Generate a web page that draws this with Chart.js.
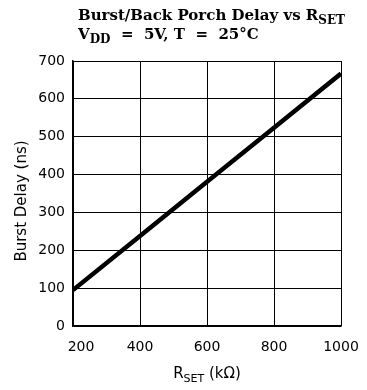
<!DOCTYPE html>
<html>
<head>
<meta charset="utf-8">
<script src="https://cdn.jsdelivr.net/npm/chart.js@4.4.1/dist/chart.umd.min.js"></script>
<style>
  html, body { margin: 0; padding: 0; background: #fff; }
  canvas { display: block; }
</style>
</head>
<body>
<canvas id="myChart" width="367" height="390"></canvas>
<script>
  // data
  const rset = [200, 400, 600, 800, 1000];
  const burstDelay = [95, 238, 381, 524, 667];
  const xTicks = [200, 400, 600, 800, 1000];
  const yTicks = [0, 100, 200, 300, 400, 500, 600, 700];

  const sans = '"DejaVu Sans", sans-serif';
  const serif = '"DejaVu Serif", serif';

  // draws text pieces, some of them as subscripts
  function drawRuns(c, runs, x, y, size, sub, bold) {
    const w = bold ? 'bold ' : '';
    for (const r of runs) {
      const fs = r.sub ? sub : size;
      c.font = w + fs + 'px ' + (r.font || serif);
      c.fillText(r.t, x, r.sub ? y + 4 : y);
      x += c.measureText(r.t).width;
    }
    return x;
  }
  function runsWidth(c, runs, size, sub, bold) {
    let wsum = 0;
    for (const r of runs) {
      c.font = (bold ? 'bold ' : '') + (r.sub ? sub : size) + 'px ' + (r.font || serif);
      wsum += c.measureText(r.t).width;
    }
    return wsum;
  }

  const labelsPlugin = {
    id: 'labels',
    afterDraw(chart) {
      const c = chart.ctx;
      const xs = chart.scales.x;
      c.save();
      c.fillStyle = '#000';
      c.textBaseline = 'alphabetic';
      c.textAlign = 'left';

      // title
      drawRuns(c, [{t: 'Burst/Back Porch Delay vs R'}, {t: 'SET', sub: true}], 78, 20, 15, 12, true);
      drawRuns(c, [{t: 'V'}, {t: 'DD', sub: true}, {t: '  =  5V, T  =  25°C'}], 78, 39, 15, 12, true);

      // x tick labels
      c.font = '14px ' + sans;
      c.textAlign = 'center';
      c.textBaseline = 'middle';
      xTicks.forEach((v, i) => {
        c.fillText(String(v), xs.getPixelForValue(v) + (i === 0 ? 8 : 0), 347);
      });

      // x axis title
      c.textAlign = 'left';
      c.textBaseline = 'alphabetic';
      const xr = [{t: 'R', font: sans}, {t: 'SET', sub: true, font: sans}, {t: ' (kΩ)', font: sans}];
      const xw = runsWidth(c, xr, 15, 11, false);
      drawRuns(c, xr, 207 - xw / 2, 378, 15, 11, false);

      // y axis title
      c.translate(22, 201);
      c.rotate(-Math.PI / 2);
      c.textAlign = 'center';
      c.textBaseline = 'middle';
      c.font = '15px ' + sans;
      c.fillText('Burst Delay (ns)', 0, 0);
      c.restore();
    }
  };

  const ctx = document.getElementById('myChart');
  new Chart(ctx, {
    type: 'line',
    data: {
      datasets: [{
        data: rset.map((r, i) => ({x: r, y: burstDelay[i]})),
        borderColor: '#000',
        borderWidth: 4.5,
        pointRadius: 0,
        tension: 0,
        fill: false
      }]
    },
    options: {
      responsive: false,
      animation: false,
      layout: { padding: { top: 61, right: 26, left: 0, bottom: 0 } },
      plugins: {
        legend: { display: false },
        tooltip: { enabled: false }
      },
      scales: {
        x: {
          type: 'linear',
          min: 200,
          max: 1000,
          afterBuildTicks(s) { s.ticks = xTicks.map(v => ({value: v})); },
          afterFit(s) { s.height = 64; },
          grid: { color: '#000', lineWidth: 1, drawTicks: false },
          border: { color: '#000', width: 1.5 },
          ticks: { display: false }
        },
        y: {
          min: 0,
          max: 700,
          afterBuildTicks(s) { s.ticks = yTicks.map(v => ({value: v})); },
          afterFit(s) { s.width = 73; },
          grid: { color: '#000', lineWidth: 1, drawTicks: false },
          border: { color: '#000', width: 1.5 },
          ticks: {
            color: '#000',
            padding: 8,
            font: { family: '"DejaVu Sans", sans-serif', size: 14 }
          }
        }
      }
    },
    plugins: [labelsPlugin]
  });
</script>
</body>
</html>
